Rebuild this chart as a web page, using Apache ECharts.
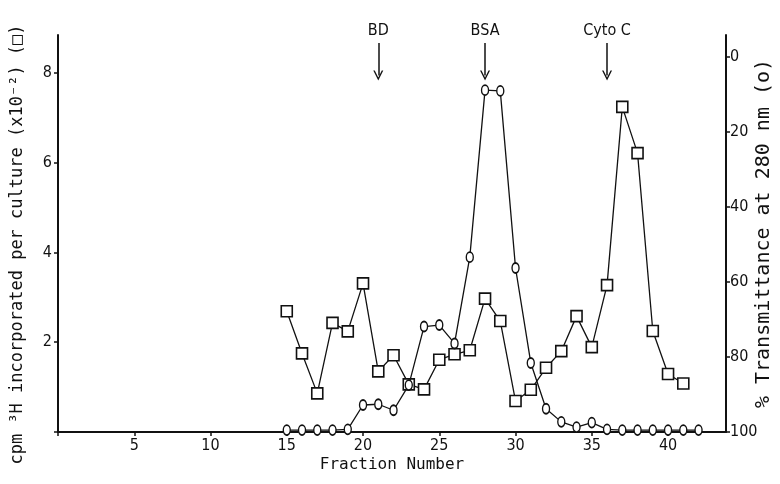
<!DOCTYPE html>
<html>
<head>
<meta charset="utf-8">
<script src="https://cdn.jsdelivr.net/npm/echarts@6/dist/echarts.min.js"></script>
<style>
  html, body { margin: 0; padding: 0; background: #fff; }
  #chart { width: 780px; height: 484px; }
</style>
</head>
<body>
<div id="chart"></div>
<script>
// cpm 3H incorporated per culture (x10^-2), squares
const squareFractions = [15, 16, 17, 18, 19, 20, 21, 22, 23, 24, 25, 26, 27, 28, 29, 30, 31, 32, 33, 34, 35, 36, 37, 38, 39, 40, 41];
const squareCpm = [2.69, 1.75, 0.86, 2.43, 2.24, 3.31, 1.35, 1.71, 1.06, 0.95, 1.61, 1.73, 1.82, 2.97, 2.47, 0.69, 0.94, 1.43, 1.80, 2.58, 1.89, 3.27, 7.24, 6.21, 2.25, 1.29, 1.08];

// % transmittance at 280 nm, circles
const circleFractions = [15, 16, 17, 18, 19, 20, 21, 22, 23, 24, 25, 26, 27, 28, 29, 30, 31, 32, 33, 34, 35, 36, 37, 38, 39, 40, 41, 42];
const transmittance = [99.5, 99.5, 99.5, 99.5, 99.3, 92.8, 92.6, 94.2, 87.5, 71.9, 71.5, 76.4, 53.4, 8.9, 9.1, 56.3, 81.6, 93.8, 97.3, 98.7, 97.5, 99.3, 99.5, 99.5, 99.5, 99.5, 99.5, 99.5];

// marker arrows: label, fraction
const markerNames = ['BD', 'BSA', 'Cyto C'];
const markerFractions = [21, 28, 36];

const rightTicks = [0, 20, 40, 60, 80, 100];

const font = 'DejaVu Sans Condensed, Liberation Sans Narrow, sans-serif';
const mono = 'DejaVu Sans Mono, Liberation Mono, monospace';
const ink = '#111';

const chart = echarts.init(document.getElementById('chart'));

const axisCommon = {
  axisLine: { show: true, lineStyle: { color: ink, width: 2 } },
  axisTick: { show: true, length: 4, lineStyle: { color: ink, width: 1.5 } },
  axisLabel: { color: ink, fontFamily: font, fontSize: 16 },
  splitLine: { show: false },
  nameMoveOverlap: false,
  nameTextStyle: { color: ink, fontFamily: mono, fontSize: 16 }
};

const option = {
  backgroundColor: '#fff',
  animation: false,
  grid: { left: 58, right: 54, top: 35, bottom: 52, outerBoundsMode: 'none' },
  xAxis: {
    ...axisCommon,
    type: 'value',
    min: 0,
    max: 43.8,
    interval: 5,
    name: 'Fraction Number',
    nameLocation: 'middle',
    nameGap: 25,
    axisLabel: {
      ...axisCommon.axisLabel,
      margin: 6,
      showMaxLabel: false,
      formatter: v => (v === 0 ? '' : v)
    }
  },
  yAxis: [
    {
      ...axisCommon,
      type: 'value',
      position: 'left',
      min: 0,
      max: 8.84,
      interval: 2,
      name: 'cpm ³H incorporated per culture (x10⁻²) (□)',
      nameLocation: 'middle',
      nameRotate: 90,
      nameGap: 32,
      nameTextStyle: { ...axisCommon.nameTextStyle, fontSize: 17, padding: [0, 22, 0, 0] },
      axisLabel: {
        ...axisCommon.axisLabel,
        margin: 6,
        showMaxLabel: false,
        formatter: v => (v === 0 ? '' : v)
      }
    },
    {
      ...axisCommon,
      type: 'value',
      position: 'right',
      inverse: true,
      min: -5.8,
      max: 100,
      name: '% Transmittance at 280 nm (o)',
      nameLocation: 'middle',
      nameRotate: 90,
      nameGap: 28,
      nameTextStyle: { ...axisCommon.nameTextStyle, fontSize: 20 },
      axisTick: { ...axisCommon.axisTick, customValues: rightTicks },
      axisLabel: { ...axisCommon.axisLabel, margin: 4, customValues: rightTicks }
    }
  ],
  series: [
    {
      type: 'line',
      yAxisIndex: 0,
      data: squareFractions.map((f, i) => [f, squareCpm[i]]),
      symbol: 'rect',
      symbolSize: 11,
      showAllSymbol: true,
      lineStyle: { color: ink, width: 1.3 },
      itemStyle: { color: '#fff', borderColor: ink, borderWidth: 1.6 },
      z: 3
    },
    {
      type: 'line',
      yAxisIndex: 1,
      data: circleFractions.map((f, i) => [f, transmittance[i]]),
      symbol: 'circle',
      symbolSize: [7, 10],
      showAllSymbol: true,
      clip: false,
      lineStyle: { color: ink, width: 1.3 },
      itemStyle: { color: '#fff', borderColor: ink, borderWidth: 1.6 },
      z: 4
    },
    {
      // marker arrows only
      type: 'line',
      yAxisIndex: 1,
      data: [],
      itemStyle: { color: ink },
      lineStyle: { color: ink },
      markLine: {
        silent: true,
        symbol: ['none', 'path://M0 10L5 0L10 10L8.5 10L5 3L1.5 10Z'],
        symbolSize: 10,
        lineStyle: { color: ink, width: 1.5, type: 'solid' },
        label: {
          show: true,
          position: 'start',
          distance: 4,
          formatter: '{b}',
          color: ink,
          fontFamily: font,
          fontSize: 16
        },
        data: markerNames.map((n, i) => [
          { name: n, coord: [markerFractions[i], -3.7] },
          { coord: [markerFractions[i], 5] }
        ])
      }
    }
  ]
};

chart.setOption(option);
</script>
</body>
</html>
